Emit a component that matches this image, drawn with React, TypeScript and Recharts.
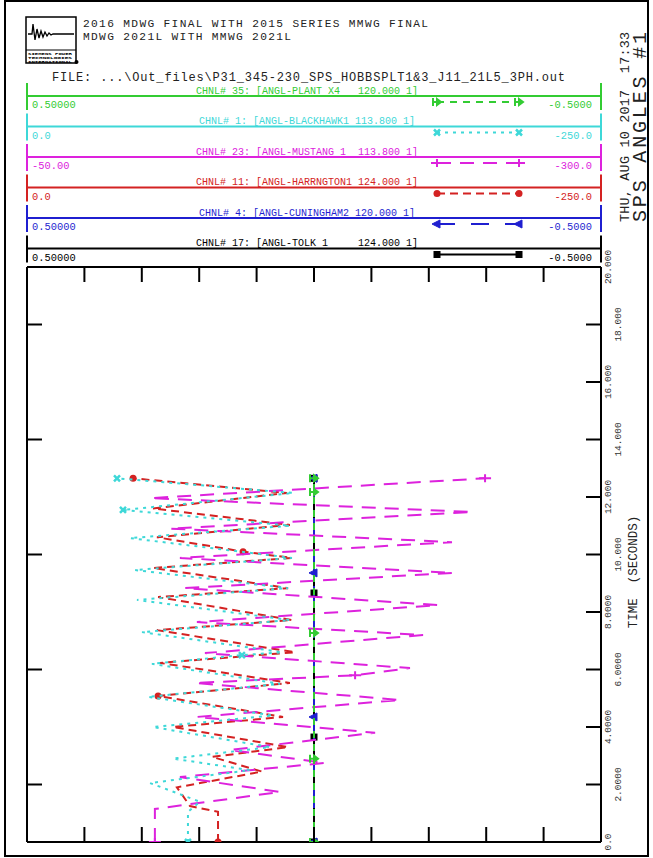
import React from "react";
import { ScatterChart, Scatter, XAxis, YAxis } from "recharts";

const W = 653;
const H = 858;
const FONT = "'Liberation Mono', 'DejaVu Sans Mono', monospace";

// plot frame edges (px)
const FRAME = { left: 27, top: 267, right: 601, bottom: 842 };
const TICK_LEN = 15;

// time axis (vertical), seconds
const TIME_TICKS = [0, 2, 4, 6, 8, 10, 12, 14, 16, 18, 20];
const TIME_LABELS = ["0.0", "2.0000", "4.0000", "6.0000", "8.0000", "10.000", "12.000", "14.000", "16.000", "18.000", "20.000"];
const LEFT_TICKS = [2, 6, 10, 14, 18];
const RIGHT_TICKS = [2, 4, 6, 8, 10, 12, 14, 16, 18];
const N_DIV = 10;

// channel headers, top to bottom
const CHNL_LABELS = [
  "CHNL# 35: [ANGL-PLANT X4   120.000 1]",
  "CHNL# 1: [ANGL-BLACKHAWK1 113.800 1]",
  "CHNL# 23: [ANGL-MUSTANG 1  113.800 1]",
  "CHNL# 11: [ANGL-HARRNGTON1 124.000 1]",
  "CHNL# 4: [ANGL-CUNINGHAM2 120.000 1]",
  "CHNL# 17: [ANGL-TOLK 1     124.000 1]",
];
const SCALE_LEFT = ["0.50000", "0.0", "-50.00", "0.0", "0.50000", "0.50000"];
const SCALE_RIGHT = ["-0.5000", "-250.0", "-300.0", "-250.0", "-0.5000", "-0.5000"];
const SCALE_DOMAIN: [number, number][] = [[-0.5, 0.5], [-250, 0], [-300, -50], [-250, 0], [-0.5, 0.5], [-0.5, 0.5]];

// [time s, angle deg]
const PLANT_X4 = [[0, 0], [2.9, 0], [7.27, 0], [12.17, 0], [12.65, 0]];
const BLACKHAWK1 = [
  [0, -70.1], [1.05, -70.1], [1.4, -75.3], [2.05, -53.6], [2.5, -97.1], [2.9, -63.6], [3.3, -105.8],
  [4.0, -54.9], [4.4, -107.1], [5.05, -52.7], [5.5, -110.2], [6.2, -54.4], [6.5, -93.6], [6.6, -111.1],
  [7.3, -50.1], [7.72, -114.5], [8.42, -47.9], [8.83, -113.7], [9.46, -47.0], [9.88, -115.4],
  [10.57, -44.9], [11.0, -114.5], [11.55, -41.8], [12.14, -115.9], [12.65, -39.2],
];
const MUSTANG1 = [
  [0, -105.7], [1.15, -105.7], [1.74, -160.2], [2.26, -116.6], [2.75, -179.8], [3.2, -138.4],
  [3.8, -201.6], [4.35, -124.0], [4.94, -212.5], [5.53, -123.2], [5.8, -192.9], [6.05, -216.8],
  [6.57, -127.5], [7.2, -222.5], [7.65, -124.0], [8.24, -229.0], [8.83, -118.8], [9.36, -235.5],
  [9.88, -116.6], [10.43, -235.1], [10.9, -112.3], [11.48, -243.8], [11.96, -103.6], [12.65, -249.5],
];
const HARRNGTON1 = [
  [0, -83.2], [1.05, -83.2], [1.25, -71.0], [1.9, -65.3], [2.45, -102.4], [2.96, -80.6], [3.3, -113.7],
  [4.0, -63.6], [4.35, -111.5], [5.08, -57.1], [5.53, -114.5], [6.23, -57.9], [6.6, -116.7],
  [7.37, -56.6], [7.72, -115.4], [8.52, -57.1], [8.83, -113.7], [9.53, -54.9], [9.88, -115.4],
  [10.1, -94.1], [10.6, -56.6], [11.03, -114.5], [11.6, -54.9], [12.14, -113.2], [12.65, -46.2],
];
const CUNINGHAM2 = [[0, 0], [4.35, 0], [9.36, 0], [12.65, 0]];
const TOLK1 = [[0, 0], [3.65, 0], [8.66, 0], [12.65, 0]];

const SERIES = [PLANT_X4, BLACKHAWK1, MUSTANG1, HARRNGTON1, CUNINGHAM2, TOLK1];
// times that carry a plot symbol
const MARKS = [
  [0, 2.9, 7.27, 12.17, 12.65],
  [0, 6.5, 11.55, 12.65],
  [0, 5.8, 12.65],
  [0, 5.08, 10.1, 12.65],
  [0, 4.35, 9.36, 12.65],
  [0, 3.65, 8.66, 12.65],
];

const STYLES = [
  { color: "#33cc33", dash: "7 6", marker: "arrow" },
  { color: "#3ed8d8", dash: "3 5", marker: "cross" },
  { color: "#dd22dd", dash: "14 9", marker: "plus" },
  { color: "#d42222", dash: "8 5", marker: "dot" },
  { color: "#1f1fd0", dash: "18 16", marker: "tri" },
  { color: "#000000", dash: "", marker: "square" },
];

function Marker({ kind, x, y, color }: { kind: string; x: number; y: number; color: string }) {
  switch (kind) {
    case "arrow":
      return (
        <path
          d={`M${x - 4},${y - 4}V${y + 4}M${x - 4},${y}H${x + 3}M${x},${y - 3}L${x + 4},${y}L${x},${y + 3}Z`}
          stroke={color}
          strokeWidth={2}
          fill={color}
        />
      );
    case "cross":
      return <path d={`M${x - 3},${y - 3}L${x + 3},${y + 3}M${x - 3},${y + 3}L${x + 3},${y - 3}`} stroke={color} strokeWidth={2.5} />;
    case "plus":
      return <path d={`M${x - 6},${y}H${x + 6}M${x},${y - 4}V${y + 4}`} stroke={color} strokeWidth={2} />;
    case "dot":
      return <circle cx={x} cy={y} r={3.5} fill={color} />;
    case "tri":
      return <path d={`M${x - 5},${y}L${x + 3},${y - 4}L${x + 3},${y + 4}Z`} fill={color} stroke={color} strokeWidth={1} />;
    default:
      return <rect x={x - 3.5} y={y - 3.5} width={7} height={7} fill={color} />;
  }
}

const toRows = (pairs: number[][]) => pairs.map(([t, v]) => ({ t, v }));

const pointShape = (i: number) => (p: any) => {
  const t = p?.payload?.t;
  if (!MARKS[i].includes(t)) return <g />;
  return <Marker kind={STYLES[i].marker} x={p.cx} y={p.cy} color={STYLES[i].color} />;
};

// tick marks only, no label
const NoLabel = () => <g />;

const TimeTick = (props: any) => {
  const { y, index } = props;
  const x = FRAME.right + (index % 2 === 0 ? 7 : 17);
  return (
    <text
      x={x}
      y={y}
      transform={`rotate(-90 ${x} ${y})`}
      textAnchor="middle"
      dominantBaseline="central"
      fontFamily={FONT}
      fontSize={9.5}
      fill="#333"
    >
      {TIME_LABELS[index]}
    </text>
  );
};

function Logo() {
  return (
    <g>
      <rect x={26} y={17} width={50} height={46} fill="#fff" stroke="#000" strokeWidth={1.5} />
      <polyline
        points="28,34 32,34 33,24 35,40 37,29 39,38 41,31 43,37 45,32 47,36 49,33 51,35 53,34 56,34 74,34"
        fill="none"
        stroke="#000"
        strokeWidth={1.3}
      />
      <line x1={26} y1={50} x2={76} y2={50} stroke="#000" strokeWidth={1} />
      {["SIEMENS POWER", "TECHNOLOGIES", "INTERNATIONAL"].map((s, i) => (
        <text key={s} x={28} y={54.5 + i * 4} fontFamily={FONT} fontSize={4} fontWeight="bold" fill="#000" textLength={44} lengthAdjust="spacingAndGlyphs">
          {s}
        </text>
      ))}
      <circle cx={76.5} cy={62} r={2} fill="#000" />
    </g>
  );
}

// frame tick marks on the top, bottom and right edges of the plot
function FrameTicks() {
  const plotW = FRAME.right - FRAME.left;
  const plotH = FRAME.bottom - FRAME.top;
  const xs = Array.from({ length: N_DIV - 1 }, (_, k) => FRAME.left + ((k + 1) * plotW) / N_DIV);
  const ys = RIGHT_TICKS.map((t) => FRAME.bottom - (t / 20) * plotH);
  return (
    <g stroke="#000" strokeWidth={2}>
      {xs.map((x) => (
        <g key={x}>
          <line x1={x} y1={FRAME.top} x2={x} y2={FRAME.top + TICK_LEN} />
          <line x1={x} y1={FRAME.bottom} x2={x} y2={FRAME.bottom - TICK_LEN} />
        </g>
      ))}
      {ys.map((y) => (
        <line key={y} x1={FRAME.right - TICK_LEN} y1={y} x2={FRAME.right} y2={y} />
      ))}
    </g>
  );
}

function Header() {
  return (
    <svg width={W} height={H} style={{ position: "absolute", left: 0, top: 0, pointerEvents: "none" }}>
      <rect x={5} y={1} width={643} height={855} fill="none" stroke="#000" strokeWidth={2} />
      <Logo />
      <FrameTicks />
      <text x={83} y={27} fontFamily={FONT} fontSize={11.2} fill="#222" textLength={345} style={{ whiteSpace: "pre" }}>
        2016 MDWG FINAL WITH 2015 SERIES MMWG FINAL
      </text>
      <text x={83} y={39.5} fontFamily={FONT} fontSize={11.2} fill="#222" textLength={208} style={{ whiteSpace: "pre" }}>
        MDWG 2021L WITH MMWG 2021L
      </text>
      <text x={52} y={80.5} fontFamily={FONT} fontSize={12} fill="#222" textLength={513} style={{ whiteSpace: "pre" }}>
        {"FILE: ...\\Out_files\\P31_345-230_SPS_HOBBSPLT1&3_J11_21L5_3PH.out"}
      </text>
      {CHNL_LABELS.map((label, i) => {
        const L = 96 + i * 30.5;
        const { color, dash, marker } = STYLES[i];
        return (
          <g key={label}>
            <line x1={27} y1={L - 13} x2={27} y2={L + 14} stroke={color} strokeWidth={2} />
            <line x1={601} y1={L - 13} x2={601} y2={L + 14} stroke={color} strokeWidth={2} />
            <line x1={27} y1={L} x2={601} y2={L} stroke={color} strokeWidth={2} />
            <text x={307} y={L - 2.5} textAnchor="middle" fontFamily={FONT} fontSize={10} fill={color} style={{ whiteSpace: "pre" }}>
              {label}
            </text>
            <text x={32} y={L + 12} fontFamily={FONT} fontSize={10.4} fill={color}>
              {SCALE_LEFT[i]}
            </text>
            <text x={592} y={L + 12} textAnchor="end" fontFamily={FONT} fontSize={10.4} fill={color}>
              {SCALE_RIGHT[i]}
            </text>
            <line x1={437} y1={L + 6} x2={519} y2={L + 6} stroke={color} strokeWidth={2} strokeDasharray={dash || undefined} />
            <Marker kind={marker} x={437} y={L + 6} color={color} />
            <Marker kind={marker} x={519} y={L + 6} color={color} />
          </g>
        );
      })}
      <text
        x={625}
        y={222}
        transform="rotate(-90 625 222)"
        dominantBaseline="central"
        fontFamily={FONT}
        fontSize={13.4}
        fill="#222"
        textLength={190}
        style={{ whiteSpace: "pre" }}
      >
        THU, AUG 10 2017  17:33
      </text>
      <text
        x={640}
        y={222}
        transform="rotate(-90 640 222)"
        dominantBaseline="central"
        fontFamily={FONT}
        fontSize={20}
        fill="#222"
        textLength={190}
      >
        SPS ANGLES #1
      </text>
      <text
        x={634}
        y={572}
        transform="rotate(-90 634 572)"
        textAnchor="middle"
        dominantBaseline="central"
        fontFamily={FONT}
        fontSize={12.5}
        fill="#222"
        style={{ whiteSpace: "pre" }}
      >
        TIME  (SECONDS)
      </text>
    </svg>
  );
}

export default function App() {
  const axisLine = { stroke: "#000", strokeWidth: 2 };
  const drawOrder = [5, 4, 3, 2, 1, 0];
  // the two per-unit axes double as the bottom and top frame edges
  const frameSide: Record<number, "bottom" | "top"> = { 0: "bottom", 4: "top" };
  return (
    <div style={{ position: "absolute", left: 0, top: 0, width: W, height: H, background: "#fff" }}>
      <ScatterChart
        width={W}
        height={H}
        margin={{ top: FRAME.top, left: FRAME.left, right: 7, bottom: H - FRAME.bottom }}
        style={{ position: "absolute", left: 0, top: 0 }}
      >
        {SCALE_DOMAIN.map((d, i) =>
          frameSide[i] ? (
            <XAxis
              key={i}
              xAxisId={`ch${i}`}
              orientation={frameSide[i]}
              mirror
              type="number"
              dataKey="v"
              domain={d}
              reversed
              tick={false}
              tickLine={false}
              axisLine={axisLine}
              allowDataOverflow
            />
          ) : (
            <XAxis key={i} xAxisId={`ch${i}`} type="number" dataKey="v" domain={d} reversed hide allowDataOverflow />
          )
        )}
        <YAxis
          yAxisId="time"
          orientation="right"
          type="number"
          dataKey="t"
          domain={[0, 20]}
          ticks={TIME_TICKS}
          interval={0}
          width={45}
          tickLine={false}
          axisLine={axisLine}
          tick={TimeTick}
          allowDataOverflow
        />
        <YAxis
          yAxisId="leftTicks"
          orientation="left"
          mirror
          type="number"
          domain={[0, 20]}
          ticks={LEFT_TICKS}
          interval={0}
          tick={NoLabel}
          tickSize={TICK_LEN}
          tickLine={axisLine}
          axisLine={axisLine}
          allowDataOverflow
        />
        {drawOrder.map((i) => (
          <Scatter
            key={i}
            xAxisId={`ch${i}`}
            yAxisId="time"
            data={toRows(SERIES[i])}
            fill={STYLES[i].color}
            line={{ stroke: STYLES[i].color, strokeWidth: 2, strokeDasharray: STYLES[i].dash || undefined }}
            shape={pointShape(i)}
            isAnimationActive={false}
          />
        ))}
      </ScatterChart>
      <Header />
    </div>
  );
}
